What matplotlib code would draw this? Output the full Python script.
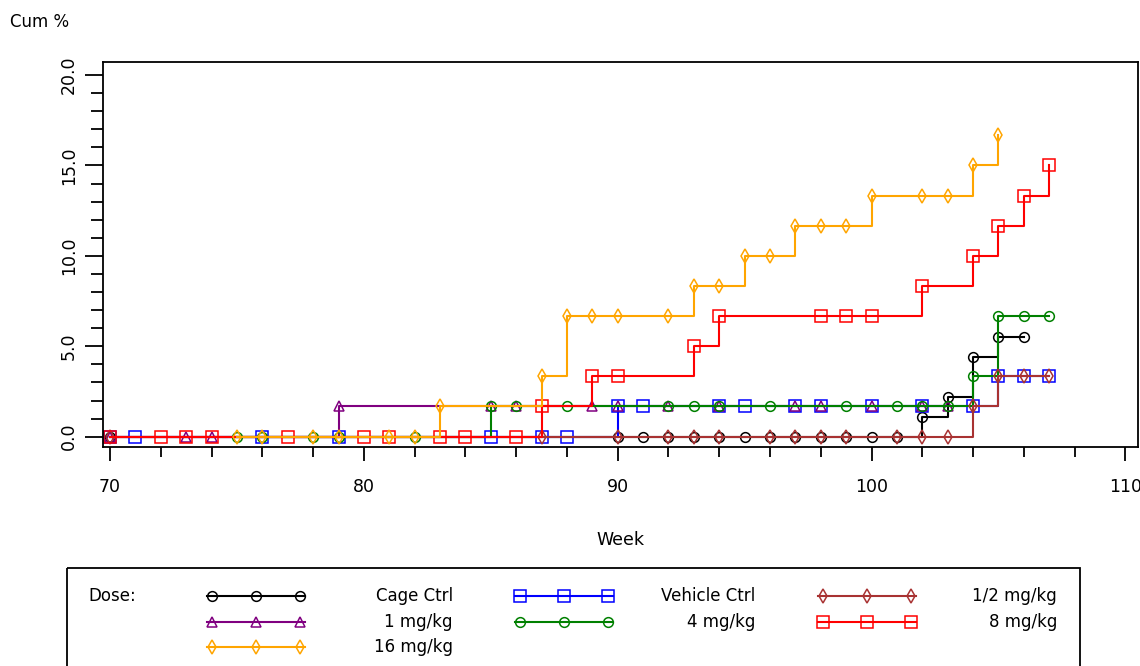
"""Cumulative incidence by dose group (step plot)."""
import matplotlib
matplotlib.use('Agg')
import matplotlib.pyplot as plt
from matplotlib.patches import Rectangle
from matplotlib.ticker import MultipleLocator, FormatStrFormatter

plt.rcParams['font.family'] = ['DejaVu Sans']

# data: week of each marker and cumulative %
cage_weeks = [70, 90, 91, 92, 93, 94, 95, 96, 97, 98, 99, 100, 101, 102, 103, 104, 105, 106]
cage_pct = [0] * 13 + [1.1, 2.2, 4.4, 5.5, 5.5]

vehicle_weeks = [70, 71, 76, 79, 85, 87, 88, 90, 91, 94, 95, 97, 98, 100, 102, 104, 105, 106, 107]
vehicle_pct = [0] * 7 + [1.67] * 9 + [3.33] * 3

mg1_weeks = [70, 73, 74, 79, 85, 86, 89, 90, 92, 94, 97, 98, 100, 102, 103]
mg1_pct = [0] * 3 + [1.67] * 12

mg4_weeks = [75, 76, 78, 79, 82, 85, 86, 88, 92, 93, 94, 96, 99, 101, 102, 103, 104, 105, 106, 107]
mg4_pct = [0] * 5 + [1.67] * 11 + [3.33] + [6.67] * 3

mg05_weeks = [70, 87, 90, 92, 93, 94, 96, 97, 98, 99, 101, 102, 103, 104, 105, 106, 107]
mg05_pct = [0] * 13 + [1.67, 3.33, 3.33, 3.33]

mg8_weeks = [70, 72, 73, 74, 77, 80, 81, 83, 84, 86, 87, 89, 90, 93, 94, 98, 99, 100, 102, 104, 105, 106, 107]
mg8_pct = [0] * 10 + [1.67, 3.33, 3.33, 5.0, 6.67, 6.67, 6.67, 6.67, 8.33, 10.0, 11.67, 13.33, 15.0]

mg16_weeks = [75, 76, 78, 79, 81, 82, 83, 87, 88, 89, 90, 92, 93, 94, 95, 96, 97, 98, 99, 100, 102, 103, 104, 105]
mg16_pct = [0] * 6 + [1.67, 3.33, 6.67, 6.67, 6.67, 6.67, 8.33, 8.33, 10.0, 10.0, 11.67, 11.67, 11.67,
                      13.33, 13.33, 13.33, 15.0, 16.67]

# (label, weeks, pct, color, marker) in drawing order
series = [
    ('Cage Ctrl', cage_weeks, cage_pct, 'black', 'o'),
    ('Vehicle Ctrl', vehicle_weeks, vehicle_pct, '#0000FF', 's'),
    ('1 mg/kg', mg1_weeks, mg1_pct, '#800080', '^'),
    ('4 mg/kg', mg4_weeks, mg4_pct, '#008000', 'o'),
    ('1/2 mg/kg', mg05_weeks, mg05_pct, '#A83232', 'd'),
    ('8 mg/kg', mg8_weeks, mg8_pct, '#FF0000', 's'),
    ('16 mg/kg', mg16_weeks, mg16_pct, '#FFA500', 'd'),
]
marker_size = {'o': 7, 's': 8, '^': 7.5, 'd': 7}

fig = plt.figure(figsize=(11.4, 6.66), dpi=100)
ax = fig.add_axes([103 / 1140, 1 - 447 / 666, 1035 / 1140, 385 / 666])

for label, weeks, pct, color, mk in series:
    ax.plot(weeks, pct, drawstyle='steps-post', color=color, linewidth=1.5)
    ax.plot(weeks, pct, linestyle='none', marker=mk, markersize=marker_size[mk],
            markerfacecolor='none', markeredgecolor=color, markeredgewidth=1.1)

ax.set_xlim(69.72, 110.5)
ax.set_ylim(-0.57, 20.72)
ax.xaxis.set_major_locator(MultipleLocator(10))
ax.xaxis.set_minor_locator(MultipleLocator(2))
ax.yaxis.set_major_locator(MultipleLocator(5))
ax.yaxis.set_minor_locator(MultipleLocator(1))
ax.yaxis.set_major_formatter(FormatStrFormatter('%.1f'))
ax.tick_params(axis='x', which='major', direction='out', length=10, width=1.3, pad=12, labelsize=12.5)
ax.tick_params(axis='x', which='minor', direction='out', length=7, width=1.3)
ax.tick_params(axis='y', which='major', direction='out', length=13, width=1.3, pad=5, labelsize=12.5)
ax.tick_params(axis='y', which='minor', direction='out', length=9, width=1.3)
for lab in ax.get_yticklabels():
    lab.set_rotation(90)
    lab.set_va('center')
for sp in ax.spines.values():
    sp.set_linewidth(1.3)

fig.text(10 / 1140, 1 - 22 / 666, 'Cum %', fontsize=12, ha='left', va='center')
fig.text(620 / 1140, 1 - 540 / 666, 'Week', fontsize=12.5, ha='center', va='center')

# legend drawn in pixel coordinates
lg = fig.add_axes([0, 0, 1, 1], zorder=5)
lg.set_xlim(0, 1140)
lg.set_ylim(666, 0)
lg.axis('off')
lg.add_patch(Rectangle((67, 568), 1013, 120, fill=False, edgecolor='black', linewidth=1.3))
lg.text(88, 596, 'Dose:', fontsize=12, ha='left', va='center')

slots = {
    'Cage Ctrl': (207, 453, 596), '1 mg/kg': (207, 453, 622), '16 mg/kg': (207, 453, 647),
    'Vehicle Ctrl': (515, 755, 596), '4 mg/kg': (515, 755, 622),
    '1/2 mg/kg': (818, 1057, 596), '8 mg/kg': (818, 1057, 622),
}
for label, weeks, pct, color, mk in series:
    x0, xr, y = slots[label]
    xs = [x0 + 5, x0 + 49, x0 + 93]
    lg.plot([x0, x0 + 98], [y, y], color=color, linewidth=1.5)
    lg.plot(xs, [y] * 3, linestyle='none', marker=mk, markersize=marker_size[mk],
            markerfacecolor='none', markeredgecolor=color, markeredgewidth=1.1)
    lg.text(xr, y, label, fontsize=12, ha='right', va='center')

fig.savefig('out.png', dpi=100)
plt.close(fig)
